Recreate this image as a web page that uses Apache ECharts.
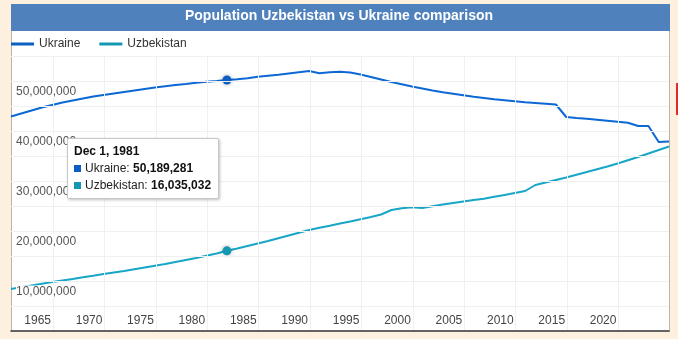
<!DOCTYPE html>
<html><head><meta charset="utf-8">
<script src="https://cdn.jsdelivr.net/npm/echarts@6/dist/echarts.min.js"></script>
<style>
html,body{margin:0;padding:0;background:#fdf0df;overflow:hidden;}
#c{width:678px;height:339px;position:absolute;left:0;top:0;}
#red{position:absolute;left:676px;top:83px;width:2px;height:32px;background:#e32b2b;}
</style></head><body>
<div id="c"></div><div id="red"></div>
<script>
// ---- data ----
const years = [1960,1961,1962,1963,1964,1965,1966,1967,1968,1969,1970,1971,1972,1973,1974,1975,1976,1977,1978,1979,
  1980,1981,1982,1983,1984,1985,1986,1987,1988,1989,1990,1991,1992,1993,1994,1995,1996,1997,1998,1999,
  2000,2001,2002,2003,2004,2005,2006,2007,2008,2009,2010,2011,2012,2013,2014,2015,2016,2017,2018,2019,
  2020,2021,2022,2023,2024];
// millions
const ukraine = [42.9,43.5,44.1,44.7,45.2,45.7,46.1,46.5,46.9,47.2,47.5,47.8,48.1,48.4,48.7,48.95,49.2,49.4,49.65,49.85,
  50.0,50.189281,50.35,50.55,50.85,51.05,51.25,51.5,51.75,52.0,51.55,51.75,51.85,51.7,51.3,50.8,50.3,49.8,49.35,48.9,
  48.5,48.1,47.75,47.45,47.15,46.85,46.6,46.35,46.15,45.95,45.75,45.6,45.45,45.3,42.8,42.6,42.45,42.25,42.05,41.85,
  41.65,41.0,41.0,37.8,37.9];
const uzbekistan = [8.4,8.75,9.1,9.45,9.8,10.1,10.4,10.75,11.05,11.4,11.7,12.0,12.35,12.7,13.05,13.4,13.8,14.2,14.6,15.05,
  15.5,16.035032,16.5,17.0,17.5,18.0,18.55,19.1,19.65,20.2,20.65,21.05,21.5,21.9,22.35,22.8,23.3,24.2,24.55,24.75,
  24.6,24.95,25.3,25.6,25.9,26.2,26.45,26.85,27.2,27.6,28.0,29.2,29.7,30.2,30.7,31.25,31.8,32.35,32.9,33.5,
  34.15,34.8,35.5,36.2,36.9];
const xTickYears = [1965,1970,1975,1980,1985,1990,1995,2000,2005,2010,2015,2020];
const seriesNames = ['Ukraine','Uzbekistan'];
const titleText = 'Population Uzbekistan vs Ukraine comparison';
const tooltipYearIndex = 21; // Dec 1, 1981

// ---- build ----
const DEC1 = 334/365;
const colors = ['#0b5fc1','#1597b4'];
const toPts = arr => arr.map((v,i)=>[years[i]+DEC1, Math.round(v*1e6)]);
const fmt = n => Math.round(n).toLocaleString('en-US');
const FONT = '"Liberation Sans", Arial, sans-serif';

const chart = echarts.init(document.getElementById('c'), null, {renderer:'canvas'});
chart.setOption({
  animation:false,
  color:colors,
  textStyle:{fontFamily:FONT},
  graphic:[
    {type:'rect', z:-10, shape:{x:11.5,y:4.5,width:658,height:327}, style:{fill:'#fff', stroke:'#bdb3a6', lineWidth:1}},
    {type:'rect', z:-9, shape:{x:11,y:4,width:659,height:27}, style:{fill:'#4f81bd'}}
  ],
  title:{text:titleText, left:'center', top:9, padding:0,
    textStyle:{color:'#fff', fontSize:14, fontWeight:'bold', fontFamily:FONT}},
  legend:{left:11, top:38, padding:0, itemWidth:23, itemHeight:3, itemGap:19, icon:'rect',
    textStyle:{color:'#333', fontSize:12, fontFamily:FONT}},
  grid:{left:11, right:9, top:56, bottom:8, containLabel:false},
  tooltip:{
    trigger:'axis', alwaysShowContent:true, transitionDuration:0, showDelay:0,
    position:[67,138],
    axisPointer:{type:'line', lineStyle:{opacity:0}},
    backgroundColor:'#fff', borderColor:'#c8c8c8', borderWidth:1, padding:[4,7,4,6],
    extraCssText:'box-shadow:1px 1px 3px rgba(0,0,0,0.25);border-radius:2px;',
    textStyle:{fontFamily:FONT, fontSize:12, color:'#222'},
    formatter: params => {
      const yr = Math.floor(params[0].value[0]);
      let h = '<div style="line-height:17px;font-weight:bold;font-size:12px;color:#111">Dec 1, '+yr+'</div>';
      params.forEach(p=>{
        h += '<div style="line-height:17px;font-size:12px;color:#222;white-space:nowrap">'+
          '<span style="display:inline-block;width:7px;height:7px;background:'+p.color+';margin-right:4px;vertical-align:0px"></span>'+
          p.seriesName+': <b style="color:#111">'+fmt(p.value[1])+'</b></div>';
      });
      return h;
    }
  },
  xAxis:{
    type:'value', min:'dataMin', max:'dataMax', z:5,
    axisLine:{show:true, lineStyle:{color:'#333', width:1.5}},
    axisTick:{show:false, customValues:xTickYears},
    axisLabel:{inside:true, customValues:xTickYears, align:'right', verticalAlign:'middle', margin:10,
      padding:[0,2,0,0], color:'#444', fontSize:12, fontFamily:FONT, formatter:v=>String(v)},
    splitLine:{show:true, lineStyle:{color:'#f0f0f0', width:1}}
  },
  yAxis:{
    type:'value', min:0, max:55e6, interval:5e6, z:5,
    axisLine:{show:false}, axisTick:{show:false},
    axisLabel:{inside:true, margin:5, verticalAlign:'top', padding:[4,0,0,0],
      color:'#555', fontSize:12, fontFamily:FONT,
      rich:{a:{backgroundColor:'#fff', color:'#555', fontSize:12, fontFamily:FONT, lineHeight:13}},
      formatter:v=> (v>0 && v<55e6 && v%10e6===0) ? '{a|'+fmt(v)+'}' : ''},
    splitLine:{show:true, lineStyle:{color:'#f0f0f0', width:1}}
  },
  series:[
    {name:seriesNames[0], type:'line', data:toPts(ukraine), showSymbol:false, symbol:'circle', symbolSize:9,
      lineStyle:{width:2}, emphasis:{scale:false, lineStyle:{width:2}, itemStyle:{shadowBlur:4, shadowColor:'rgba(0,0,0,0.3)'}}, z:2},
    {name:seriesNames[1], type:'line', data:toPts(uzbekistan), showSymbol:false, symbol:'circle', symbolSize:9,
      lineStyle:{width:2}, emphasis:{scale:false, lineStyle:{width:2}, itemStyle:{shadowBlur:4, shadowColor:'rgba(0,0,0,0.3)'}}, z:2}
  ]
});
chart.dispatchAction({type:'showTip', seriesIndex:0, dataIndex:tooltipYearIndex});
</script>
</body></html>
